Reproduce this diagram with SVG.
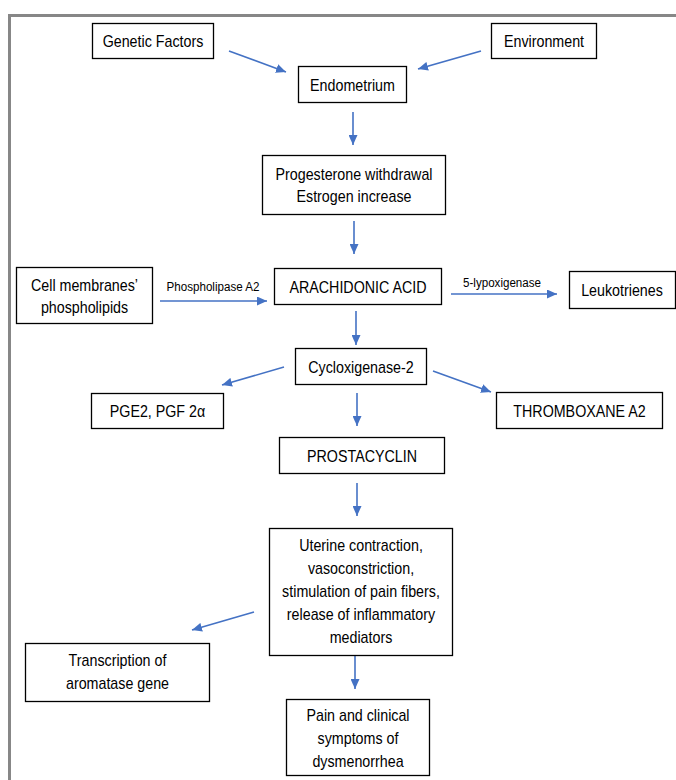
<svg xmlns="http://www.w3.org/2000/svg" width="676" height="780" viewBox="0 0 676 780">
<style>
.bg{fill:#ffffff}
.frame{fill:none;stroke:#878787;stroke-width:3}
.box{fill:#ffffff;stroke:#000000;stroke-width:1.3}
.t{font-family:"Liberation Sans",Arial,sans-serif;font-size:16.6px;fill:#000000;text-anchor:middle}
.s{font-family:"Liberation Sans",Arial,sans-serif;font-size:13.5px;fill:#000000;text-anchor:middle}
.c{fill:none;stroke:#4472C4;stroke-width:1.6;marker-end:url(#ah)}
</style>
<defs>
<marker id="ah" markerUnits="userSpaceOnUse" markerWidth="11" markerHeight="9" refX="10" refY="4.5" orient="auto">
<path d="M0,0 L10,4.5 L0,9 z" fill="#4472C4"/>
</marker>
</defs>
<rect class="bg" x="0" y="0" width="676" height="780"/>
<path class="frame" d="M9.5,780 V15.5 H676"/>

<g id="connectors">
<line class="c" x1="229" y1="51" x2="286" y2="72"/>
<line class="c" x1="481" y1="51" x2="418" y2="69"/>
<line class="c" x1="353" y1="112" x2="353" y2="145"/>
<line class="c" x1="354" y1="221" x2="354" y2="254"/>
<line class="c" x1="160" y1="301" x2="267" y2="301"/>
<line class="c" x1="451" y1="294" x2="557" y2="294"/>
<line class="c" x1="356" y1="311" x2="356" y2="345"/>
<line class="c" x1="284" y1="367" x2="222" y2="385"/>
<line class="c" x1="433" y1="371" x2="491" y2="392"/>
<line class="c" x1="357" y1="393" x2="357" y2="426"/>
<line class="c" x1="357" y1="483" x2="357" y2="516"/>
<line class="c" x1="254" y1="612" x2="192" y2="630"/>
<line class="c" x1="355" y1="655" x2="355" y2="689"/>
<text class="s" transform="translate(213,291) scale(0.86,1)">Phospholipase A2</text>
<text class="s" transform="translate(502,287) scale(0.86,1)">5-lypoxigenase</text>
</g>

<g id="genetic">
<rect class="box" x="92.5" y="23.5" width="121" height="35"/>
<text class="t" transform="translate(153,47) scale(0.86,1)">Genetic Factors</text>
</g>
<g id="environment">
<rect class="box" x="491.5" y="23.5" width="105" height="35"/>
<text class="t" transform="translate(544,47) scale(0.86,1)">Environment</text>
</g>
<g id="endometrium">
<rect class="box" x="298.5" y="66.5" width="108" height="36"/>
<text class="t" transform="translate(352.5,90.5) scale(0.86,1)">Endometrium</text>
</g>
<g id="progesterone">
<rect class="box" x="262.5" y="155.5" width="183" height="59"/>
<text class="t" transform="translate(354,180) scale(0.86,1)">Progesterone withdrawal</text>
<text class="t" transform="translate(354,202) scale(0.86,1)">Estrogen increase</text>
</g>
<g id="cell-membranes">
<rect class="box" x="16.5" y="267.5" width="136" height="56"/>
<text class="t" transform="translate(84.5,291) scale(0.86,1)">Cell membranes’</text>
<text class="t" transform="translate(84.5,313) scale(0.86,1)">phospholipids</text>
</g>
<g id="arachidonic">
<rect class="box" x="274.5" y="268.5" width="167" height="36"/>
<text class="t" transform="translate(358,292.5) scale(0.86,1)">ARACHIDONIC ACID</text>
</g>
<g id="leukotrienes">
<rect class="box" x="569.5" y="271.5" width="106" height="37"/>
<text class="t" transform="translate(622,296) scale(0.86,1)">Leukotrienes</text>
</g>
<g id="cycloxigenase">
<rect class="box" x="295.5" y="348.5" width="131" height="36"/>
<text class="t" transform="translate(361,372.5) scale(0.86,1)">Cycloxigenase-2</text>
</g>
<g id="pge2">
<rect class="box" x="91.5" y="393.5" width="132" height="35"/>
<text class="t" transform="translate(157.5,417) scale(0.86,1)">PGE2, PGF 2α</text>
</g>
<g id="thromboxane">
<rect class="box" x="496.5" y="392.5" width="166" height="36"/>
<text class="t" transform="translate(579.5,416.5) scale(0.86,1)">THROMBOXANE A2</text>
</g>
<g id="prostacyclin">
<rect class="box" x="279.5" y="437.5" width="165" height="36"/>
<text class="t" transform="translate(362,461.5) scale(0.86,1)">PROSTACYCLIN</text>
</g>
<g id="uterine">
<rect class="box" x="269.5" y="528.5" width="183" height="127"/>
<text class="t" transform="translate(361,551) scale(0.86,1)">Uterine contraction,</text>
<text class="t" transform="translate(361,574) scale(0.86,1)">vasoconstriction,</text>
<text class="t" transform="translate(361,597) scale(0.86,1)">stimulation of pain fibers,</text>
<text class="t" transform="translate(361,620) scale(0.86,1)">release of inflammatory</text>
<text class="t" transform="translate(361,643) scale(0.86,1)">mediators</text>
</g>
<g id="transcription">
<rect class="box" x="25.5" y="643.5" width="184" height="58"/>
<text class="t" transform="translate(117.5,666) scale(0.86,1)">Transcription of</text>
<text class="t" transform="translate(117.5,689) scale(0.86,1)">aromatase gene</text>
</g>
<g id="pain">
<rect class="box" x="286.5" y="699.5" width="143" height="76"/>
<text class="t" transform="translate(358,721) scale(0.86,1)">Pain and clinical</text>
<text class="t" transform="translate(358,744) scale(0.86,1)">symptoms of</text>
<text class="t" transform="translate(358,767) scale(0.86,1)">dysmenorrhea</text>
</g>
</svg>
